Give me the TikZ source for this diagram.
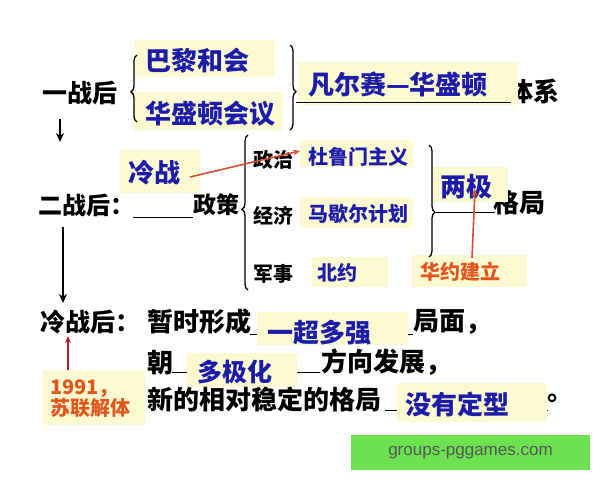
\documentclass[tikz,border=0pt]{standalone}
\usepackage{fontspec}
\setmainfont{Noto Sans CJK SC}
\newfontfamily\wmfont{Liberation Sans}
\usetikzlibrary{arrows.meta,decorations.pathreplacing}
\definecolor{yfill}{RGB}{252,250,208}
\definecolor{blueT}{RGB}{28,28,168}
\definecolor{orangeT}{RGB}{226,86,30}
\definecolor{redA}{RGB}{214,78,48}
\definecolor{darkredA}{RGB}{186,30,42}
\definecolor{wmgreen}{RGB}{108,226,80}
\definecolor{wmgray}{RGB}{85,85,85}

\begin{document}
\begin{tikzpicture}[x=1pt,y=-1pt,
    ybox/.style={fill=yfill, inner sep=0pt},
    blk/.style={font=\bfseries\fontsize{#1}{#1}\selectfont, inner sep=0pt, anchor=west},
    blk/.default=26,
    blu/.style={blk=#1, text=blueT}, blu/.default=26,
    org/.style={blk=#1, text=orangeT}, org/.default=20,
    brc/.style={decorate, decoration={brace, amplitude=6pt, aspect=#1}, line width=1.3pt},
    arr/.style={-{Stealth[length=9pt,width=8pt]}, line width=2pt},
    redarr/.style={-{Stealth[length=7pt,width=6pt]}, line width=1.6pt, draw=#1}]
    \useasboundingbox (0,0) rectangle (600,480);

    % texts that the boxes partly hide
    \node[blk=26] (tixi) at (507,91) {体系};
    \node[blk=26] (geju) at (493,203) {格局};
    \draw[line width=1pt] (250,334) -- (413,334);
    \draw[line width=1pt] (172,372) -- (320,372);
    \draw[line width=1pt] (385,410) -- (548,410);

    % yellow boxes
    \foreach \nm/\xa/\ya/\xb/\yb in {bali/135/40/275/77, hsd/133/92/283/130, fes/298/62/518/105,
        lz/120/150/200/193, dlm/300/140/413/167, mxe/300/197/413/228, bey/312/257/388/287,
        lj/432/167/508/202, hy/412/255/527/287, ycd/257/312/408/345, djh/187/353/297/387,
        myd/397/383/547/422, sl/43/370/145/425}
        \node[ybox, minimum width={\xb-\xa}, minimum height={\yb-\ya}] (bx\nm)
            at ({(\xa+\xb)/2},{(\ya+\yb)/2}) {};

    % 一战后
    \node[blk=25] (yzh) at (42,93) {一战后};
    \draw[brc=0.45] (137,122) -- (137,55);
    \node[blu] (bali) at (145,61) {巴黎和会};
    \node[blu] (hsd) at (145,114) {华盛顿会议};
    \draw[brc=0.55] (290,45) -- (290,130);
    \draw[line width=1pt] (296,102) -- (511,102);
    \node[blu] (fes) at (308,85) {凡尔赛—华盛顿};
    \coordinate (a1) at (60,119);
    \coordinate (a2) at (60,142);
    \draw[arr] (a1) -- (a2);

    % 二战后
    \node[blk=24] (ezh) at (38,205) {二战后：};
    \draw[line width=1pt] (133,217) -- (193,217);
    \node[blk=23] (zc) at (193,205) {政策};
    \draw[brc=0.52] (248,290) -- (248,135);
    \node[blk=20] (zz) at (253,160) {政治};
    \node[blk=20] (jj) at (253,216) {经济};
    \node[blk=20] (js) at (253,274) {军事};
    \node[blu] (lz) at (128,173) {冷战};
    \node[blu=20] (dlm) at (308,157) {杜鲁门主义};
    \node[blu=20] (mxe) at (308,214) {马歇尔计划};
    \node[blu=20] (bey) at (317,273) {北约};
    \draw[brc=0.6] (429,145) -- (429,257);
    \draw[line width=1pt] (436,212) -- (495,212);
    \node[blu] (lj) at (440,187) {两极};
    \node[org] (hy) at (420,272) {华约建立};
    \coordinate (r1) at (190,177);
    \coordinate (r2) at (300,151);
    \draw[redarr=redA] (r1) -- (r2);
    \coordinate (r3) at (472,258);
    \coordinate (r4) at (475,189);
    \draw[redarr=redA] (r3) -- (r4);
    \coordinate (a3) at (63,227);
    \coordinate (a4) at (63,303);
    \draw[arr, line width=2.4pt] (a3) -- (a4);

    % 冷战后
    \node[blk=25] (lzh) at (40,322) {冷战后：};
    \node[blk] (zsxc) at (147,322) {暂时形成};
    \node[blu] (ycd) at (267,333) {一超多强};
    \node[blk] (jm) at (413,322) {局面，};
    \node[blk] (chao) at (147,363) {朝};
    \node[blu=25] (djh) at (197,372) {多极化};
    \node[blk] (fx) at (321,362) {方向发展，};
    \node[blk] (xd) at (147,399) {新的相对稳定的格局};
    \node[blu] (myd) at (405,404) {没有定型};
    \node[blk] (jh) at (547,398) {。};
    \node[org, align=left, font=\bfseries\fontsize{20}{21}\selectfont] (sl) at (50,399) {1991，\\苏联解体};
    \coordinate (r5) at (68,370);
    \coordinate (r6) at (68,336);
    \draw[redarr=darkredA] (r5) -- (r6);

    % green stamp
    \node[fill=wmgreen, minimum width=239, minimum height=35, inner sep=0pt,
        text=wmgray, font=\wmfont\fontsize{17}{17}\selectfont] (wm) at (470.5,452.5) {groups-pggames.com};
\end{tikzpicture}
\end{document}
